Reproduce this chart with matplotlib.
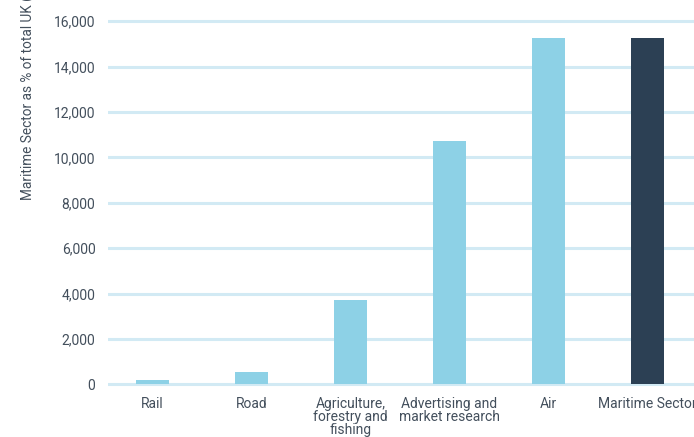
import matplotlib.pyplot as plt
from matplotlib import rcParams

rcParams['font.family'] = ['Roboto', 'DejaVu Sans']

categories = ["Rail", "Road", "Agriculture,\nforestry and\nfishing",
              "Advertising and\nmarket research", "Air", "Maritime Sector"]
values = [200, 550, 3720, 10730, 15280, 15280]
colors = ["#8dd1e6"] * 5 + ["#2c4054"]
yticks = [0, 2000, 4000, 6000, 8000, 10000, 12000, 14000, 16000]

W, H = 694, 437
fig = plt.figure(figsize=(W / 100, H / 100), dpi=100)
ax = fig.add_axes([108 / W, 48 / H, 586 / W, 376.8 / H])

x = list(range(len(categories)))
ax.bar(x, values, width=0.333, color=colors, zorder=3)

ax.set_xlim(-0.449, 5.47)
ax.set_ylim(-200, 16400)
ax.set_yticks(yticks)
ax.set_yticklabels([f"{v:,}" for v in yticks])
ax.set_xticks(x)
ax.set_xticklabels(categories, linespacing=0.9)

ax.grid(axis='y', color="#d2eaf4", linewidth=2.2, zorder=0)
ax.set_axisbelow(True)
for s in ax.spines.values():
    s.set_visible(False)
ax.tick_params(axis='both', length=0, labelsize=10, colors="#434f5c")
ax.tick_params(axis='y', pad=9)
ax.tick_params(axis='x', pad=6)

fig.text(28 / W, 1 - 200 / H, "Maritime Sector as % of total UK (%)",
         rotation=90, ha='center', va='bottom', fontsize=9.8, color="#434f5c")

fig.savefig("out.png", dpi=100)
